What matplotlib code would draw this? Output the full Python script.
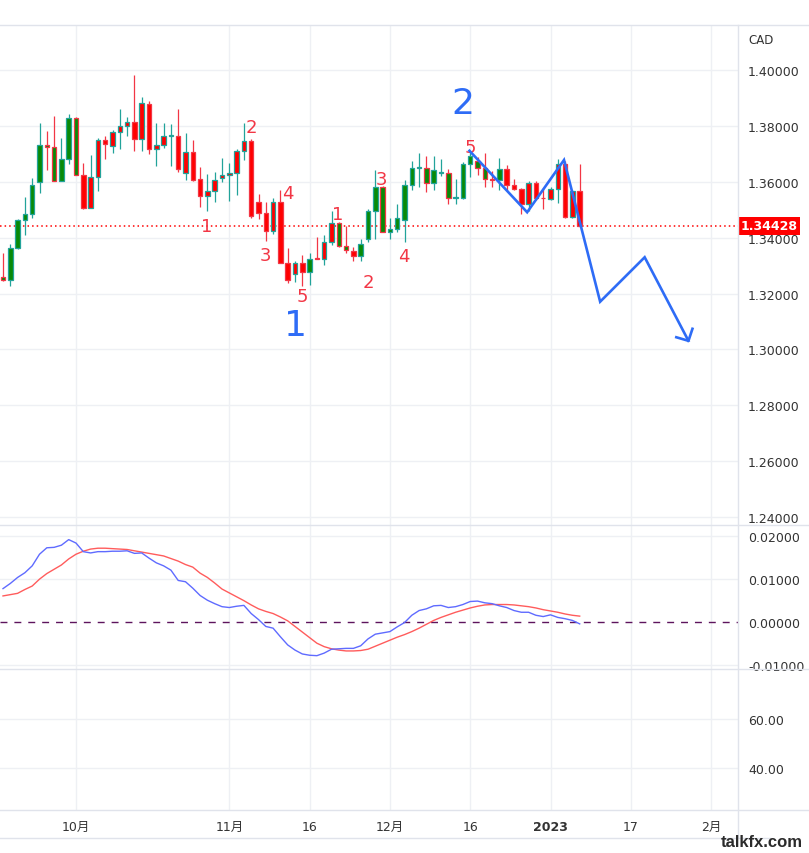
import numpy as np
import matplotlib
matplotlib.use("Agg")
import matplotlib.pyplot as plt
from matplotlib.lines import Line2D
from matplotlib.transforms import blended_transform_factory

plt.rcParams['font.family'] = ['DejaVu Sans', 'Noto Sans CJK SC']

# ---- data (daily bars, index 0 = 3 Oct 2022) ----
bar_idx = list(range(-10, 70))
opens = [1.3260, 1.3249, 1.3364, 1.3462, 1.3483, 1.3598, 1.3732, 1.3724, 1.3604, 1.3681,
         1.3829, 1.3625, 1.3508, 1.3616, 1.3751, 1.3728, 1.3778, 1.3800, 1.3814, 1.3752,
         1.3878, 1.3718, 1.3732, 1.3764, 1.3764, 1.3631, 1.3706, 1.3609, 1.3548, 1.3566,
         1.3614, 1.3625, 1.3632, 1.3710, 1.3746, 1.3526, 1.3490, 1.3424, 1.3526, 1.3310,
         1.3271, 1.3311, 1.3279, 1.3327, 1.3323, 1.3386, 1.3452, 1.3371, 1.3353, 1.3335,
         1.3397, 1.3494, 1.3580, 1.3422, 1.3430, 1.3463, 1.3588, 1.3651, 1.3651, 1.3594,
         1.3632, 1.3632, 1.3543, 1.3543, 1.3662, 1.3674, 1.3650, 1.3611, 1.3606, 1.3647,
         1.3587, 1.3575, 1.3522, 1.3596, 1.3543, 1.3539, 1.3575, 1.3665, 1.3474, 1.3566]
highs = [1.3344, 1.3376, 1.3466, 1.3544, 1.3614, 1.3812, 1.3780, 1.3837, 1.3758, 1.3841,
         1.3831, 1.3668, 1.3697, 1.3758, 1.3763, 1.3787, 1.3859, 1.3832, 1.3982, 1.3902,
         1.3888, 1.3812, 1.3812, 1.3808, 1.3859, 1.3776, 1.3751, 1.3652, 1.3628, 1.3634,
         1.3686, 1.3667, 1.3716, 1.3812, 1.3754, 1.3556, 1.3526, 1.3542, 1.3571, 1.3362,
         1.3317, 1.3337, 1.3347, 1.3403, 1.3409, 1.3496, 1.3455, 1.3442, 1.3365, 1.3397,
         1.3504, 1.3643, 1.3586, 1.3470, 1.3520, 1.3607, 1.3675, 1.3703, 1.3693, 1.3693,
         1.3683, 1.3644, 1.3611, 1.3672, 1.3707, 1.3690, 1.3704, 1.3638, 1.3684, 1.3659,
         1.3611, 1.3578, 1.3602, 1.3602, 1.3578, 1.3582, 1.3683, 1.3674, 1.3570, 1.3662]
lows = [1.3244, 1.3226, 1.3360, 1.3410, 1.3470, 1.3561, 1.3643, 1.3602, 1.3602, 1.3662,
        1.3623, 1.3502, 1.3506, 1.3568, 1.3680, 1.3704, 1.3716, 1.3763, 1.3709, 1.3709,
        1.3700, 1.3658, 1.3722, 1.3655, 1.3634, 1.3607, 1.3602, 1.3511, 1.3496, 1.3529,
        1.3601, 1.3532, 1.3553, 1.3679, 1.3470, 1.3466, 1.3388, 1.3414, 1.3308, 1.3238,
        1.3242, 1.3227, 1.3231, 1.3322, 1.3302, 1.3373, 1.3368, 1.3344, 1.3317, 1.3317,
        1.3385, 1.3395, 1.3420, 1.3397, 1.3421, 1.3385, 1.3571, 1.3583, 1.3564, 1.3571,
        1.3620, 1.3522, 1.3519, 1.3540, 1.3618, 1.3624, 1.3582, 1.3582, 1.3570, 1.3566,
        1.3570, 1.3485, 1.3497, 1.3534, 1.3501, 1.3534, 1.3525, 1.3472, 1.3471, 1.3440]
closes = [1.3249, 1.3364, 1.3462, 1.3483, 1.3589, 1.3732, 1.3724, 1.3604, 1.3681, 1.3829,
          1.3625, 1.3508, 1.3616, 1.3751, 1.3735, 1.3778, 1.3800, 1.3814, 1.3752, 1.3883,
          1.3716, 1.3732, 1.3764, 1.3765, 1.3644, 1.3706, 1.3607, 1.3548, 1.3566, 1.3607,
          1.3625, 1.3632, 1.3710, 1.3746, 1.3478, 1.3490, 1.3424, 1.3526, 1.3310, 1.3249,
          1.3311, 1.3278, 1.3325, 1.3324, 1.3383, 1.3452, 1.3371, 1.3355, 1.3335, 1.3377,
          1.3494, 1.3580, 1.3422, 1.3430, 1.3469, 1.3588, 1.3651, 1.3652, 1.3594, 1.3642,
          1.3633, 1.3543, 1.3544, 1.3662, 1.3692, 1.3650, 1.3611, 1.3608, 1.3647, 1.3587,
          1.3575, 1.3522, 1.3596, 1.3543, 1.3541, 1.3575, 1.3665, 1.3474, 1.3566, 1.34428]
# body fill state from the chart's colouring (1 = green fill, 0 = red fill)
fill_green = [1] * 11 + [0] * 31 + [1, 0, 0, 0, 1, 1, 0] + [1] * 11 + [1] * 7 + [0, 1] + [0] * 11

macd = [0.0077, 0.0089, 0.0103, 0.0114, 0.0130, 0.0157, 0.0172, 0.0173, 0.0178, 0.0191,
        0.0183, 0.0163, 0.0160, 0.0163, 0.0163, 0.0164, 0.0164, 0.0165, 0.0159, 0.0160,
        0.0148, 0.0137, 0.0130, 0.0120, 0.0096, 0.0093, 0.0078, 0.0061, 0.0050, 0.0042,
        0.0035, 0.0033, 0.0036, 0.0038, 0.0019, 0.0005, -0.0011, -0.0015, -0.0035, -0.0054,
        -0.0066, -0.0075, -0.0078, -0.0079, -0.0073, -0.0064, -0.0063, -0.0062, -0.0062, -0.0056,
        -0.0040, -0.0029, -0.0026, -0.0023, -0.0012, -0.0002, 0.0015, 0.0026, 0.0030, 0.0037,
        0.0038, 0.0033, 0.0035, 0.0040, 0.0047, 0.0048, 0.0044, 0.0042, 0.0037, 0.0033,
        0.0026, 0.0022, 0.0022, 0.0015, 0.0012, 0.0016, 0.0010, 0.0007, 0.0003, -0.0005]
signal = [0.0060, 0.0063, 0.0066, 0.0075, 0.0083, 0.0099, 0.0112, 0.0122, 0.0132, 0.0146,
          0.0157, 0.0164, 0.0169, 0.0171, 0.0171, 0.0170, 0.0169, 0.0168, 0.0165, 0.0162,
          0.0159, 0.0156, 0.0153, 0.0147, 0.0141, 0.0133, 0.0127, 0.0113, 0.0103, 0.0090,
          0.0076, 0.0067, 0.0058, 0.0049, 0.0039, 0.0030, 0.0024, 0.0019, 0.0011, 0.0002,
          -0.0011, -0.0024, -0.0037, -0.0050, -0.0058, -0.0063, -0.0066, -0.0068, -0.0068, -0.0067,
          -0.0064, -0.0057, -0.0050, -0.0043, -0.0036, -0.0030, -0.0023, -0.0015, -0.0006, 0.0003,
          0.0010, 0.0016, 0.0022, 0.0027, 0.0032, 0.0036, 0.0039, 0.0040, 0.0040, 0.0040,
          0.0039, 0.0037, 0.0035, 0.0032, 0.0028, 0.0025, 0.0022, 0.0018, 0.0015, 0.0013]

# time axis
date_pos = [0, 21, 32, 43, 54, 65, 76, 87]
date_labels = ['10月', '11月', '16', '12月', '16', '2023', '17', '2月']
price_ticks = [1.40, 1.38, 1.36, 1.34, 1.32, 1.30, 1.28, 1.26, 1.24]
macd_ticks = [0.02, 0.01, 0.0, -0.01]
macd_tick_labels = ['0.02000', '0.01000', '0.00000', '-0.01000']
lower_ticks = [60, 40]
lower_tick_labels = ['60.00', '40.00']

# wave count annotations
wave_labels = ['1', '2', '3', '4', '5', '1', '2', '3', '4', '5']
wave_label_x = [17.95, 23.97, 25.9, 29.0, 31.0, 35.8, 40.0, 41.9, 44.9, 54.0]
wave_label_y = [1.3443, 1.3797, 1.3339, 1.3560, 1.3190, 1.3485, 1.3243, 1.3610, 1.3333, 1.3723]
big_labels = ['1', '2']
big_label_x = [30.1, 53.0]
big_label_y = [1.3088, 1.3882]
path_x = [53.9, 61.8, 66.85, 71.8, 77.9, 83.9]
path_y = [1.3711, 1.3491, 1.3678, 1.3171, 1.3330, 1.3031]

TEAL = '#22a39a'
RED = '#f23645'
GREEN_FILL = '#088a08'
RED_FILL = '#ff0000'
BLUE = '#2e6cf6'
GRID = '#eef0f4'
SEP = '#e0e3eb'
TXT = '#333333'

W, H = 809, 854
fig = plt.figure(figsize=(W / 100, H / 100), dpi=100)


def box(top, bottom):
    return [0, (H - bottom) / H, 738 / W, (bottom - top) / H]


ax = fig.add_axes(box(26, 526))
ax2 = fig.add_axes(box(526, 670), sharex=ax)
ax3 = fig.add_axes(box(670, 811), sharex=ax)

xlim = (-76 / 7.3, (738 - 76) / 7.3)

for a in (ax, ax2, ax3):
    for s in a.spines.values():
        s.set_visible(False)
    a.yaxis.tick_right()
    a.tick_params(length=0, labelsize=9, labelcolor=TXT, pad=7.2)
    for p in date_pos:
        a.axvline(p, color=GRID, lw=1, zorder=0)
    a.set_xlim(*xlim)
ax.tick_params(labelbottom=False)
ax2.tick_params(labelbottom=False)

# ---- price panel ----
for t in price_ticks:
    ax.axhline(t, color=GRID, lw=1, zorder=0)
for x, o, h, l, c, g in zip(bar_idx, opens, highs, lows, closes, fill_green):
    edge = TEAL if c >= o else RED
    face = GREEN_FILL if g else RED_FILL
    ax.vlines(x, l, h, color=edge, lw=0.9, zorder=2)
    ax.bar(x, max(abs(c - o), 0.0002), bottom=min(o, c), width=0.62,
           color=face, edgecolor=edge, linewidth=0.9, zorder=3)

last = closes[-1]
ax.axhline(last, color='#ff0000', lw=1.1, ls=(0, (1, 2)), zorder=1)
ax.set_ylim(1.2372, 1.4161)
ax.set_yticks(price_ticks)
ax.set_yticklabels([f'{t:.5f}' for t in price_ticks])

for s, x, y in zip(wave_labels, wave_label_x, wave_label_y):
    ax.text(x, y, s, color=RED, fontsize=13, ha='center', va='center', zorder=5)
for s, x, y in zip(big_labels, big_label_x, big_label_y):
    ax.text(x, y, s, color=BLUE, fontsize=26, ha='center', va='center', zorder=5)

ax.plot(path_x, path_y, color=BLUE, lw=1.9, zorder=6, solid_joinstyle='miter')
# open arrow head at the end of the path
tip = ax.transData.transform((path_x[-1], path_y[-1]))
prev = ax.transData.transform((path_x[-2], path_y[-2]))
d = (prev - tip) / np.hypot(*(prev - tip))
inv = ax.transData.inverted()
for ang in (46, -46):
    r = np.radians(ang)
    rot = np.array([d[0] * np.cos(r) - d[1] * np.sin(r), d[0] * np.sin(r) + d[1] * np.cos(r)])
    end = inv.transform(tip + rot * 14)
    ax.plot([path_x[-1], end[0]], [path_y[-1], end[1]], color=BLUE, lw=1.9, zorder=6,
            solid_capstyle='butt')

tr = blended_transform_factory(ax.transAxes, ax.transData)
ax.text(1.003, last, f'{last:.5f}', transform=tr, ha='left', va='center', color='white',
        fontsize=9, fontweight='bold', zorder=10, clip_on=False,
        bbox=dict(boxstyle='square,pad=0.2', fc='#ff0000', ec='none'))

# ---- MACD panel ----
for t in (0.02, 0.01, -0.01):
    ax2.axhline(t, color=GRID, lw=1, zorder=0)
ax2.axhline(0, color='#5d145d', lw=1, ls=(0, (5, 5)), zorder=1)
ax2.plot(bar_idx, signal, color='#ff5c5c', lw=1, zorder=3)
ax2.plot(bar_idx, macd, color='#5f6bff', lw=1, zorder=4)
ax2.set_ylim(-0.0110, 0.0225)
ax2.set_yticks(macd_ticks)
ax2.set_yticklabels(macd_tick_labels)

# ---- lower panel ----
for t in lower_ticks:
    ax3.axhline(t, color=GRID, lw=1, zorder=0)
ax3.set_ylim(23.1, 80.3)
ax3.set_yticks(lower_ticks)
ax3.set_yticklabels(lower_tick_labels)
ax3.set_xticks(date_pos)
ax3.set_xticklabels(date_labels)
ax3.tick_params(axis='x', pad=7, labelsize=9)
for lab in ax3.get_xticklabels():
    if lab.get_text() == '2023':
        lab.set_fontweight('bold')

# ---- frame lines ----
for y in (26, 526, 670, 811):
    fig.add_artist(Line2D([0, 1], [1 - y / H] * 2, color=SEP, lw=1))
fig.add_artist(Line2D([0, 770 / W], [1 - 839 / H] * 2, color=SEP, lw=1))
fig.add_artist(Line2D([738 / W] * 2, [1 - 26 / H, 1 - 839 / H], color=SEP, lw=1))

fig.text(748 / W, 1 - 41 / H, 'CAD', fontsize=8.5, color=TXT, va='center', ha='left')
fig.text(803 / W, 1 - 843 / H, 'talkfx.com', fontsize=12, fontweight='bold', color='#2b2b2b',
         ha='right', va='center', family='Liberation Sans')

fig.savefig('out.png', dpi=100, facecolor='white')
